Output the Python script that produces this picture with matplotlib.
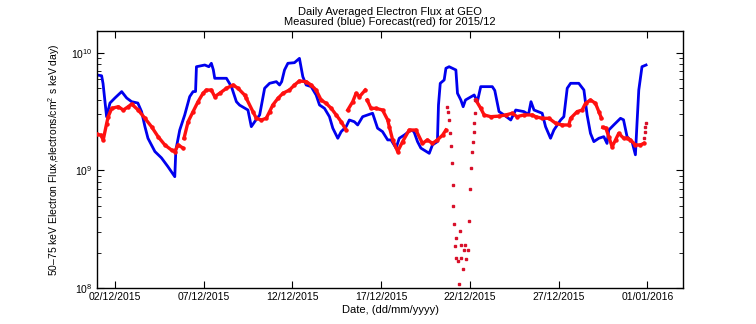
import numpy as np
import pandas as pd
import matplotlib
matplotlib.use("Agg")
import matplotlib.pyplot as plt
import matplotlib.dates as mdates
from matplotlib.ticker import LogLocator, NullFormatter

plt.rcParams.update(
    {
        "font.family": "Liberation Sans",
        "font.size": 7.5,
        "mathtext.fontset": "custom",
        "mathtext.rm": "Liberation Sans",
    }
)

start = pd.Timestamp("2015-12-01")

# measured flux (days since 01/12/2015 00:00)
meas_days = [
    0.0, 0.26, 0.34, 0.54, 0.73, 1.01, 1.39, 1.67, 1.95, 2.30, 2.51, 2.70,
    2.87, 3.26, 3.63, 3.99, 4.38, 4.44, 4.66, 4.94, 5.22, 5.41, 5.55, 5.60,
    6.07, 6.30, 6.44, 6.55, 6.63, 7.29, 7.57, 7.85, 8.03, 8.50, 8.69, 8.88,
    9.16, 9.44, 9.72, 10.10, 10.28, 10.40, 10.56, 10.75, 11.12, 11.40, 11.59,
    11.78, 12.06, 12.34, 12.53, 12.81, 13.09, 13.28, 13.56, 13.75, 14.03,
    14.21, 14.49, 14.68, 14.96, 15.24, 15.52, 15.80, 16.08, 16.37, 16.56,
    16.84, 17.02, 17.30, 17.68, 17.85, 18.05, 18.24, 18.71, 18.89, 19.17,
    19.23, 19.33, 19.55, 19.65, 19.83, 20.21, 20.30, 20.49, 20.62, 20.75,
    21.24, 21.42, 21.61, 22.26, 22.40, 22.64, 22.92, 23.30, 23.58, 24.04,
    24.30, 24.44, 24.61, 25.07, 25.26, 25.54, 25.73, 26.11, 26.29, 26.48,
    26.67, 27.13, 27.42, 27.60, 27.79, 27.98, 28.26, 28.54, 28.72, 28.82,
    29.10, 29.48, 29.65, 29.85, 30.13, 30.32, 30.41, 30.51, 30.69, 30.92,
]
meas_flux = [
    6.5e9, 6.4e9, 5.5e9, 2.87e9, 3.75e9, 4.14e9, 4.69e9, 4.14e9, 3.85e9,
    3.75e9, 3.17e9, 2.36e9, 1.88e9, 1.45e9, 1.28e9, 1.08e9, 8.86e8, 1.49e9,
    2.21e9, 2.97e9, 4.25e9, 4.69e9, 4.7e9, 7.64e9, 7.9e9, 7.64e9, 8.17e9,
    7.2e9, 6.09e9, 6.09e9, 5.17e9, 3.85e9, 3.6e9, 3.27e9, 2.36e9, 2.6e9,
    2.97e9, 5.01e9, 5.52e9, 5.70e9, 5.34e9, 5.7e9, 7.17e9, 8.17e9, 8.27e9,
    9.0e9, 6.29e9, 5.34e9, 5.17e9, 4.39e9, 3.61e9, 3.38e9, 2.87e9, 2.29e9,
    1.88e9, 2.14e9, 2.36e9, 2.69e9, 2.60e9, 2.44e9, 2.87e9, 2.97e9, 3.07e9,
    2.29e9, 2.14e9, 1.82e9, 1.82e9, 1.55e9, 1.88e9, 2.0e9, 2.21e9, 2.14e9,
    1.76e9, 1.55e9, 1.40e9, 1.65e9, 1.76e9, 3.61e9, 5.52e9, 5.89e9, 7.41e9,
    7.64e9, 7.17e9, 4.54e9, 3.98e9, 3.49e9, 3.98e9, 4.39e9, 3.85e9, 5.17e9,
    5.17e9, 4.8e9, 3.17e9, 2.97e9, 2.69e9, 3.27e9, 3.17e9, 3.0e9, 3.85e9,
    3.27e9, 3.07e9, 2.36e9, 1.88e9, 2.21e9, 2.69e9, 2.87e9, 5.01e9, 5.52e9,
    5.52e9, 4.84e9, 2.97e9, 2.07e9, 1.76e9, 1.88e9, 1.94e9, 1.70e9, 2.21e9,
    2.44e9, 2.78e9, 2.7e9, 1.94e9, 1.76e9, 1.36e9, 2.52e9, 4.84e9, 7.64e9,
    7.9e9,
]

# forecast flux, continuous stretches
fc_days = [
    [0.0, 0.22, 0.35, 0.54, 0.63, 0.83, 1.20, 1.48, 1.76, 1.95, 2.32, 2.70,
     3.07, 3.44, 3.82, 4.20, 4.38, 4.57, 4.85],
    [4.90, 5.13, 5.41, 5.69, 5.97, 6.16, 6.44, 6.63, 6.91, 7.29, 7.66, 7.94,
     8.31, 8.41, 8.78, 8.97, 9.25, 9.53, 9.72, 9.90, 10.19, 10.47, 10.84,
     11.12, 11.40, 11.78, 12.06, 12.34, 12.62, 12.90, 13.19, 13.47, 13.75,
     14.03],
    [14.12, 14.40, 14.59, 14.78, 15.11],
    [15.21, 15.43, 15.71, 16.08, 16.37, 16.46, 16.65, 16.93, 17.21, 17.58,
     17.96, 18.33, 18.61, 18.89, 19.17, 19.46, 19.65],
    [21.33, 21.61, 21.80, 22.17, 22.64, 23.02, 23.39, 23.65, 24.04, 24.51,
     24.70, 25.07, 25.45, 25.83, 26.20, 26.57, 26.67, 27.04, 27.32, 27.51,
     27.79, 28.07, 28.26, 28.41],
    [28.48, 28.65, 28.82, 29.01, 29.20, 29.38, 29.66, 29.85, 30.04, 30.32,
     30.60, 30.79],
]
fc_flux = [
    [2.03e9, 2.0e9, 1.82e9, 2.5e9, 2.87e9, 3.38e9, 3.49e9, 3.27e9, 3.49e9,
     3.68e9, 3.27e9, 2.78e9, 2.36e9, 1.94e9, 1.65e9, 1.49e9, 1.45e9, 1.65e9,
     1.55e9],
    [1.88e9, 2.60e9, 3.17e9, 3.85e9, 4.54e9, 4.84e9, 4.84e9, 4.25e9, 4.54e9,
     5.01e9, 5.34e9, 5.01e9, 4.39e9, 4.11e9, 3.17e9, 2.78e9, 2.69e9, 2.78e9,
     3.17e9, 3.61e9, 4.11e9, 4.54e9, 4.84e9, 5.34e9, 5.78e9, 5.70e9, 5.34e9,
     4.84e9, 3.98e9, 3.73e9, 3.38e9, 2.97e9, 2.60e9, 2.21e9],
    [3.27e9, 3.85e9, 4.54e9, 4.25e9, 4.84e9],
    [3.98e9, 3.38e9, 3.38e9, 3.27e9, 2.69e9, 2.36e9, 1.82e9, 1.45e9, 1.76e9,
     2.21e9, 2.21e9, 1.70e9, 1.82e9, 1.70e9, 1.82e9, 2.0e9, 2.21e9],
    [3.98e9, 3.38e9, 2.97e9, 2.87e9, 2.9e9, 2.97e9, 3.07e9, 2.87e9, 2.97e9,
     2.97e9, 2.87e9, 2.78e9, 2.78e9, 2.52e9, 2.44e9, 2.44e9, 2.78e9, 3.17e9,
     3.27e9, 3.73e9, 3.98e9, 3.73e9, 3.17e9, 2.78e9],
    [2.33e9, 2.3e9, 1.94e9, 1.59e9, 1.82e9, 2.07e9, 1.88e9, 1.88e9, 1.82e9,
     1.65e9, 1.65e9, 1.70e9],
]

# forecast, isolated points
fc_pt_days = [
    19.72, 19.78, 19.80, 19.87, 19.94, 19.98, 20.02, 20.06, 20.10, 20.15,
    20.24, 20.24, 20.34, 20.41, 20.47, 20.52, 20.51, 20.62, 20.69, 20.75,
    20.80, 20.88, 20.94, 21.03, 21.08, 21.12, 21.16, 21.22, 21.25, 21.28,
    21.31, 30.79, 30.88, 30.88, 30.94,
]
fc_pt_flux = [
    3.45e9, 3.17e9, 2.69e9, 2.07e9, 1.63e9, 1.16e9, 7.57e8, 4.99e8, 3.48e8,
    2.28e8, 2.67e8, 1.81e8, 1.69e8, 1.09e8, 3.04e8, 2.34e8, 1.80e8, 1.44e8,
    2.09e8, 2.34e8, 1.75e8, 2.09e8, 3.70e8, 6.92e8, 1.06e9, 1.45e9, 1.76e9,
    2.14e9, 2.52e9, 3.07e9, 3.98e9, 1.88e9, 2.14e9, 2.33e9, 2.55e9,
]


def to_time(days):
    return start + pd.to_timedelta(np.asarray(days), unit="D")


fig = plt.figure(figsize=(7.56, 3.24), dpi=100)
ax = fig.add_axes([97 / 756, 36 / 324, 586 / 756, 257 / 324])

ax.plot(to_time(meas_days), meas_flux, color="#0000ee", lw=2.0, zorder=2)
for d, f in zip(fc_days, fc_flux):
    ax.plot(to_time(d), f, color="#ff1010", lw=2.4, marker="o", ms=2.2,
            zorder=3)
ax.plot(to_time(fc_pt_days), fc_pt_flux, ls="none", marker="s", ms=1.9,
        color="#d8102a", zorder=3)

ax.set_yscale("log")
ax.set_ylim(1e8, 10 ** 10.187)
ax.set_xlim(pd.Timestamp("2015-12-01"), pd.Timestamp("2016-01-03"))

ticks = pd.date_range("2015-12-02", "2016-01-01", freq="5D")
ax.set_xticks(ticks)
ax.xaxis.set_major_formatter(mdates.DateFormatter("%d/%m/%Y"))
ax.yaxis.set_major_locator(LogLocator(base=10, numticks=10))
ax.yaxis.set_minor_locator(LogLocator(base=10, subs=np.arange(2, 10), numticks=10))
ax.yaxis.set_minor_formatter(NullFormatter())

ax.tick_params(which="both", direction="in", top=True, right=True)
ax.tick_params(which="major", length=5, width=0.8, labelsize=7.5, pad=3)
ax.tick_params(which="minor", length=3, width=0.6)
for s in ax.spines.values():
    s.set_linewidth(1.0)

ax.set_xlabel("Date, (dd/mm/yyyy)", fontsize=8, labelpad=2)
ax.set_ylabel("50\u201375 keV Electron Flux,electrons/cm$^2$ s keV day)",
              fontsize=7.5, labelpad=7)
ax.set_title("Daily Averaged Electron Flux at GEO\n"
             "Measured (blue) Forecast(red) for 2015/12",
             fontsize=8, pad=4, linespacing=1.1)

fig.savefig("out.png", dpi=100)
plt.close(fig)
